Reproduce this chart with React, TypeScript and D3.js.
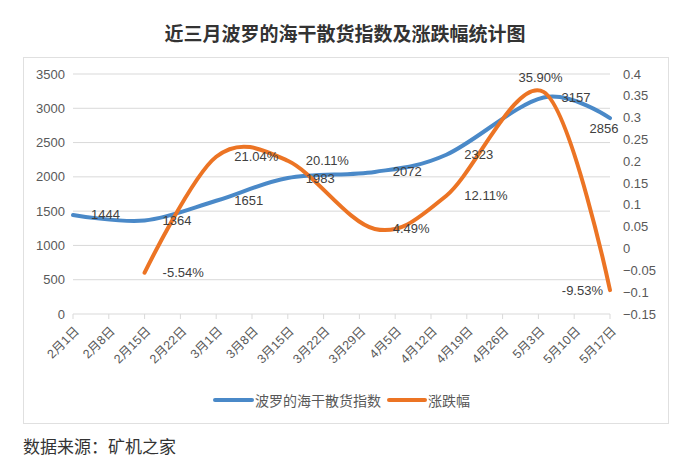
import React from "react";
import * as d3 from "d3";

const pointDates = ["2021-02-01", "2021-02-15", "2021-03-01", "2021-03-15", "2021-04-01", "2021-04-15", "2021-05-04", "2021-05-17"];
const bdiValues = [1444, 1364, 1651, 1983, 2072, 2323, 3157, 2856];
const changeValues: (number | null)[] = [null, -0.0554, 0.2104, 0.2011, 0.0449, 0.1211, 0.359, -0.0953];
const bdiLabelPos = ["right", "right", "right", "right", "right", "right", "right", "below"];
const changeLabelPos = ["", "right", "right", "right", "right", "right", "above", "left"];

const tickDates = ["2021-02-01", "2021-02-08", "2021-02-15", "2021-02-22", "2021-03-01", "2021-03-08", "2021-03-15", "2021-03-22", "2021-03-29", "2021-04-05", "2021-04-12", "2021-04-19", "2021-04-26", "2021-05-03", "2021-05-10", "2021-05-17"];
const tickLabels = ["2月1日", "2月8日", "2月15日", "2月22日", "3月1日", "3月8日", "3月15日", "3月22日", "3月29日", "4月5日", "4月12日", "4月19日", "4月26日", "5月3日", "5月10日", "5月17日"];
const leftTicks = [0, 500, 1000, 1500, 2000, 2500, 3000, 3500];
const rightTicks = [-0.15, -0.1, -0.05, 0, 0.05, 0.1, 0.15, 0.2, 0.25, 0.3, 0.35, 0.4];

const title = "近三月波罗的海干散货指数及涨跌幅统计图";
const seriesNames = ["波罗的海干散货指数", "涨跌幅"];
const source = "数据来源：矿机之家";

const BLUE = "#4A89C8";
const ORANGE = "#EC7424";
const FONT = "'Liberation Sans', 'Noto Sans CJK SC', sans-serif";
const CJK = "'Noto Sans CJK SC', sans-serif";

export default function App() {
  const parse = d3.timeParse("%Y-%m-%d");
  const dates = pointDates.map((d) => parse(d) as Date);
  const tDates = tickDates.map((d) => parse(d) as Date);

  const x = d3.scaleTime().domain([tDates[0], tDates[tDates.length - 1]]).range([73, 610]);
  const yL = d3.scaleLinear().domain([0, 3500]).range([314, 74]);
  const yR = d3.scaleLinear().domain([-0.15, 0.4]).range([314, 74]);

  const curve = d3.curveCardinal.tension(0);
  const bluePts = dates.map((d, i) => [x(d), yL(bdiValues[i])] as [number, number]);
  const orangePts = dates
    .map((d, i) => (changeValues[i] == null ? null : ([x(d), yR(changeValues[i] as number)] as [number, number])))
    .filter((p) => p !== null) as [number, number][];
  const line = d3.line<[number, number]>().curve(curve);

  const fmtPct = (v: number) => (v * 100).toFixed(2) + "%";
  const fmtR = (v: number) => d3.format("~g")(+v.toFixed(2));

  const labelProps = (px: number, py: number, pos: string) => {
    if (pos === "right") return { x: px + 18, y: py, anchor: "start" };
    if (pos === "left") return { x: px - 7, y: py, anchor: "end" };
    if (pos === "above") return { x: px - 3, y: py - 14, anchor: "middle" };
    return { x: px - 6, y: py + 10, anchor: "middle" };
  };

  return (
    <div style={{ position: "absolute", left: 0, top: 0 }}>
      <svg width={690} height={470} style={{ display: "block", background: "#fff" }}>
        <text x={345} y={32} textAnchor="middle" dominantBaseline="central" fontFamily={CJK} fontWeight="bold" fontSize={19} fill="#333">
          {title}
        </text>
        <rect x={23.5} y={57.5} width={645} height={366} fill="#fff" stroke="#e0e0e0" strokeWidth={1} />

        {leftTicks.map((t) => (
          <g key={"l" + t}>
            {t !== 0 && <line x1={73} x2={610} y1={yL(t)} y2={yL(t)} stroke="#d9d9d9" strokeWidth={1} />}
            <text x={65} y={yL(t)} textAnchor="end" dominantBaseline="central" fontFamily={FONT} fontSize={13} fill="#595959">
              {t}
            </text>
          </g>
        ))}
        {rightTicks.map((t) => (
          <text key={"r" + t} x={623} y={yR(t)} textAnchor="start" dominantBaseline="central" fontFamily={FONT} fontSize={13} fill="#595959">
            {fmtR(t)}
          </text>
        ))}
        <line x1={73} x2={610} y1={314} y2={314} stroke="#d9d9d9" strokeWidth={1} />
        {tDates.map((d, i) => (
          <g key={"t" + i}>
            <line x1={x(d)} x2={x(d)} y1={314} y2={319} stroke="#d9d9d9" strokeWidth={1} />
            <text
              transform={`translate(${x(d) + 4},${329}) rotate(-45)`}
              textAnchor="end"
              dominantBaseline="central"
              fontFamily={FONT}
              fontSize={12.5}
              fill="#595959"
            >
              {tickLabels[i]}
            </text>
          </g>
        ))}

        <path d={line(bluePts) || ""} fill="none" stroke={BLUE} strokeWidth={4} strokeLinecap="round" strokeLinejoin="round" />
        <path d={line(orangePts) || ""} fill="none" stroke={ORANGE} strokeWidth={4} strokeLinecap="round" strokeLinejoin="round" />

        {bluePts.map(([px, py], i) => {
          const l = labelProps(px, py, bdiLabelPos[i]);
          return (
            <text key={"bl" + i} x={l.x} y={l.y} textAnchor={l.anchor} dominantBaseline="central" fontFamily={FONT} fontSize={13} fill="#404040">
              {bdiValues[i]}
            </text>
          );
        })}
        {dates.map((d, i) => {
          const v = changeValues[i];
          if (v == null) return null;
          const l = labelProps(x(d), yR(v), changeLabelPos[i]);
          return (
            <text key={"ol" + i} x={l.x} y={l.y} textAnchor={l.anchor} dominantBaseline="central" fontFamily={FONT} fontSize={13} fill="#404040">
              {fmtPct(v)}
            </text>
          );
        })}

        <line x1={215} x2={252} y1={400} y2={400} stroke={BLUE} strokeWidth={4} strokeLinecap="round" />
        <text x={255} y={400} dominantBaseline="central" fontFamily={CJK} fontSize={14} fill="#595959">
          {seriesNames[0]}
        </text>
        <line x1={389} x2={425} y1={400} y2={400} stroke={ORANGE} strokeWidth={4} strokeLinecap="round" />
        <text x={428} y={400} dominantBaseline="central" fontFamily={CJK} fontSize={14} fill="#595959">
          {seriesNames[1]}
        </text>

        <text x={23} y={445} dominantBaseline="central" fontFamily={CJK} fontSize={17} fill="#333">
          {source}
        </text>
      </svg>
    </div>
  );
}
